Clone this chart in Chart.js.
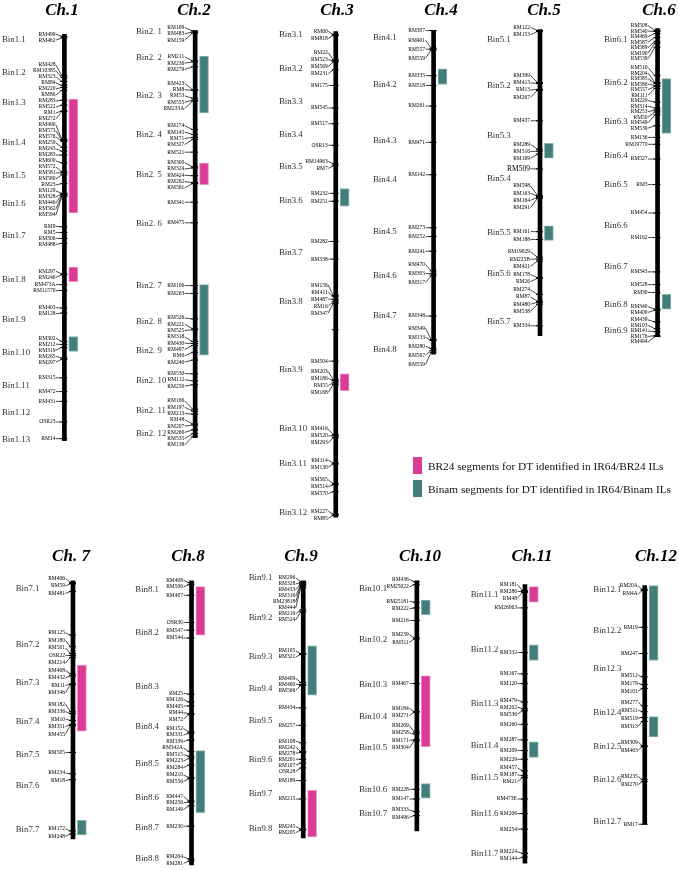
<!DOCTYPE html>
<html>
<head>
<meta charset="utf-8">
<script src="https://cdn.jsdelivr.net/npm/chart.js@4.4.1/dist/chart.umd.min.js"></script>
<style>
  html, body { margin: 0; padding: 0; background: #fff; }
  #fig { position: relative; width: 679px; height: 870px; overflow: hidden; font-family: "Liberation Serif", serif; }
  #fig canvas { position: absolute; left: 0; }
  .legend { position: absolute; left: 413px; height: 17px; font-size: 11.3px; color: #111; display: flex; align-items: center; white-space: nowrap; }
  .legend .box { display: inline-block; width: 9px; height: 17px; margin-right: 6px; }
</style>
</head>
<body>
<div id="fig"></div>
<script>
// ---- data: chromosome names, lengths, markers (position along chromosome), bins, segments ----
const chromNames = ['Ch.1', 'Ch.2', 'Ch.3', 'Ch.4', 'Ch.5', 'Ch.6', 'Ch. 7', 'Ch.8', 'Ch.9', 'Ch.10', 'Ch.11', 'Ch.12'];
const chromLength = [414, 415, 495, 330, 312, 314, 266, 293, 265, 258, 287, 246];

const markerNames = [
  ['RM499','RM462','RM428','RM10385','RM323','RM84','RM220','RM86','RM283','RM522','RM1','RM272','RM490','RM573','RM576','RM259','RM243','RM283','RM600','RM572','RM581','RM580','RM23','RM129','RM328','RM446','RM562','RM594','RM9','RM5','RM306','RM488','RM297','RM246','RM473A','RM11570','RM403','RM128','RM302','RM212','RM319','RM265','RM297','RM315','RM472','RM431','OSR23','RM14'],
  ['RM109','RM483','RM159','RM211','RM236','RM279','RM423','RM8','RM53','RM555','RM233A','RM174','RM145','RM71','RM327','RM521','RM300','RM324','RM424','RM262','RM561','RM341','RM475','RM106','RM263','RM526','RM221','RM525','RM318','RM430','RM497','RM6','RM240','RM530','RM112','RM250','RM166','RM197','RM213','RM48','RM207','RM266','RM535','RM138'],
  ['RM60','RM818','RM22','RM523','RM569','RM231','RM175','RM545','RM517','OSR13','RM14963','RM7','RM232','RM251','RM282','RM338','RM156','RM411','RM487','RM16','RM347','','RM504','RM203','RM186','RM55','RM168','RM416','RM520','RM293','RM114','RM130','RM565','RM514','RM570','RM227','RM85'],
  ['RM307','RM401','RM557','RM559','RM335','RM518','RM261','RM471','RM142','RM273','RM252','RM241','RM470','RM303','RM317','RM348','RM349','RM133','RM280','RM567','RM559'],
  ['RM122','RM153','RM399','RM413','RM13','RM267','RM437','RM289','RM516','RM169','RM509','RM598','RM163','RM164','RM291','RM161','RM188','RM19029','RM225B','RM421','RM178','RM26','RM274','RM87','RM480','RM538','RM334'],
  ['RM508','RM540','RM469','RM587','RM589','RM190','RM539','RM510','RM204','RM585','RM586','RM557','RM111','RM229','RM314','RM253','RM50','RM549','RM539','RM136','RM19770','RM527','RM3','RM454','RM162','RM343','RM528','RM30','RM340','RM400','RM439','RM103','RM141','RM176','RM494'],
  ['RM406','RM59','RM481','RM125','RM180','RM501','OSR22','RM214','RM408','RM432','RM11','RM346','RM182','RM336','RM10','RM351','RM455','RM505','RM234','RM18','RM172','RM248'],
  ['RM408','RM506','RM407','OSR30','RM547','RM544','RM25','RM126','RM405','RM44','RM72','RM152','RM331','RM339','RM342A','RM515','RM223','RM284','RM210','RM556','RM447','RM256','RM149','RM230','RM264','RM281'],
  ['RM296','RM328','RM433','RM316','RM23818','RM444','RM219','RM524','RM105','RM321','RM409','RM460','RM566','RM434','RM257','RM108','RM242','RM278','RM201','RM107','OSR28','RM189','RM215','RM245','RM205'],
  ['RM436','RM25022','RM25181','RM222','RM216','RM239','RM311','RM467','RM184','RM271','RM269','RM258','RM171','RM304','RM228','RM147','RM333','RM496'],
  ['RM181','RM286','RM48','RM26063','RM332','RM167','RM120','RM479','RM202','RM536','RM260','RM287','RM209','RM229','RM457','RM187','RM21','RM473E','RM206','RM254','RM224','RM144'],
  ['RM20A','RM4A','RM19','RM247','RM512','RM179','RM101','RM277','RM511','RM519','RM313','RM309','RM463','RM235','RM270','RM17']
];

const markerPos = [
  [2,3.5,42,44,48,52,54,57,67,72,78,78.5,107,108,109,115,119,123,131,140,141,143,152,162,162.5,163,164,165,196,202,208,213,244,245,255,261,279,284,313,316,319,330,331,350,364,374,395,412],
  [0.5,1.5,2.5,31,32,37,60.5,61,69,71,72,101,106,109,111,124,139,140,148,155,156,175,196,260,268,294,304,305,317,319,321,328,336,350,357,361,386,388,391,401,402,407,411,414],
  [3,4,29,30,31,39,55,78,94,116,135,137,165,173,214,232,269,270,273,275,277,304,336,355,356,358,360,411,412,414,440,441,461,462,469,492,493],
  [0,18,19,20,46,56,77,114,147,201,210,225,245,248,250,291,315,316,324,326,328],
  [1,2,54,55,61,62,93,122,124,127,142,169,170,171,172,206,214,232,234,236,253,253.5,270,277,278,280,302],
  [2,3,5,9,13,15,19,48,55,56,58,59,61,75,81,83,85,88,99,111,118,133,159,188,213,248,261,269,286,287,299,306,309,313,314],
  [2,3,11,56,68,75,77,79,96,98,106.5,107,135,137,144,148,149,177,199,205,258,261],
  [2,4,15,43,51,59,117,125,129,137,138,156,157,164,176,181,183,190,203,204,227,228,232,253,287,289],
  [1,2,3,4,5,7,30,32,75,76,105,107,108,131,149,167,176,177,184,188,193,206,225,256,257],
  [1,4,22,28,41,59,60,106,135,135.5,156,158,164,165,215,225,238,242],
  [6,7,8,24,70,92,102,121,128,130,144,160,171,180,192,197,199,221,236,252,277,281],
  [4,5,43,70,94,102,106,124,130,136,140,165,166,200,202,246]
];

const binNames = [
  ['Bin1.1','Bin1.2','Bin1.3','Bin1.4','Bin1.5','Bin1.6','Bin1.7','Bin1.8','Bin1.9','Bin1.10','Bin1.11','Bin1.12','Bin1.13'],
  ['Bin2. 1','Bin2. 2','Bin2. 3','Bin2. 4','Bin2. 5','Bin2. 6','Bin2. 7','Bin2. 8','Bin2. 9','Bin2. 10','Bin2. 11','Bin2. 12'],
  ['Bin3.1','Bin3.2','Bin3.3','Bin3.4','Bin3.5','Bin3.6','Bin3.7','Bin3.8','Bin3.9','Bin3.10','Bin3.11','Bin3.12'],
  ['Bin4.1','Bin4.2','Bin4.3','Bin4.4','Bin4.5','Bin4.6','Bin4.7','Bin4.8'],
  ['Bin5.1','Bin5.2','Bin5.3','Bin5.4','Bin5.5','Bin5.6','Bin5.7'],
  ['Bin6.1','Bin6.2','Bin6.3','Bin6.4','Bin6.5','Bin6.6','Bin6.7','Bin6.8','Bin6.9'],
  ['Bin7.1','Bin7.2','Bin7.3','Bin7.4','Bin7.5','Bin7.6','Bin7.7'],
  ['Bin8.1','Bin8.2','Bin8.3','Bin8.4','Bin8.5','Bin8.6','Bin8.7','Bin8.8'],
  ['Bin9.1','Bin9.2','Bin9.3','Bin9.4','Bin9.5','Bin9.6','Bin9.7','Bin9.8'],
  ['Bin10.1','Bin10.2','Bin10.3','Bin10.4','Bin10.5','Bin10.6','Bin10.7'],
  ['Bin11.1','Bin11.2','Bin11.3','Bin11.4','Bin11.5','Bin11.6','Bin11.7'],
  ['Bin12.1','Bin12.2','Bin12.3','Bin12.4','Bin12.5','Bin12.6','Bin12.7']
];
const binPos = [
  [5,39,70,110,144,173,205,250,291,324,358,386,413],
  [1,28,66,106,147,197,260,297,326,357,387,411],
  [3,38,72,105,138,172,225,275,345,405,441,490],
  [7,55,112,152,205,250,291,325],
  [10,57,108,152,207,249,298],
  [11,55,95,130,159,201,243,281,308],
  [8,66,105,145,179,211,257],
  [9,54,109,150,189,224,255,286],
  [-3,38,78,111,144,184,220,256],
  [8,61,107,140,172,215,240],
  [10,67,123,166,199,236,277],
  [4,46,86,131,166,200,243]
];

// introgression segments [start, end] along each chromosome
const br24Segments = [
  [[66,182],[237,252]], [[135,157]], [[349,366]], [], [], [],
  [[87,155]], [[6,56]], [[216,264]], [[98,171]], [[2,18]], []
];
const binamSegments = [
  [[308,323]], [[26,84],[259,331]], [[160,178]], [[39,55]], [[116,131],[200,215]], [[51,107],[271,286]],
  [[247,262]], [[175,239]], [[67,118]], [[20,35],[209,224]], [[62,78],[162,178]], [[0,77],[135,156]]
];
const seriesLabels = ['BR24 segments for DT identified in IR64/BR24 ILs', 'Binam segments for DT identified in IR64/Binam ILs'];

// ---- layout & style ----
const figWidth = 679;
const rowTop = [0, 535];
const rowHeight = [530, 335];
const barX = [60.3,193,335.7,435,543,662.3, 69,189.3,302.7,418,527.7,649.3];
const chromTop = [30,26,27,26,25,24, 577,577,577,577,581,582];
const binX = [2,136,279,373,487,604, 15.7,135.3,248.7,359,470.7,593.3];
const titleX = [62,194,337,441,544,659, 71,188,301,420,532,656];
const titleY = [11, 556.7];
const labelGap = [9,11,8,8.5,10,10, 8,8.5,8,8,8,7];
const labelSpacing = [6,6.3,7,9,7.2,5.5, 7.5,6.5,6,7.5,7,8];
const segTrack = 9;
const pink = '#DB3B95', pinkEdge = '#EE8CC4';
const teal = '#437E7B', tealEdge = '#8DB5B1';
const largeMarkers = ['RM509'];

const fig = document.getElementById('fig');

// push overlapping labels apart, keeping each cluster centred on its loci
function spreadLabels(ys, gap, minY) {
  let groups = ys.map(y => ({ n: 1, sum: y }));
  const top = g => Math.max(minY, g.sum / g.n - (g.n - 1) * gap / 2);
  let merged = true;
  while (merged) {
    merged = false;
    for (let k = 0; k < groups.length - 1; k++) {
      const a = groups[k], b = groups[k + 1];
      if (top(b) < top(a) + a.n * gap) {
        groups.splice(k, 2, { n: a.n + b.n, sum: a.sum + b.sum });
        merged = true;
        break;
      }
    }
  }
  const out = [];
  groups.forEach(g => {
    const t = top(g);
    for (let j = 0; j < g.n; j++) out.push(t + j * gap);
  });
  return out;
}

const mapLabels = (i, row) => ({
  id: 'mapLabels' + i,
  afterDatasetsDraw(chart) {
    const { ctx, scales: { x, y } } = chart;
    const barPx = x.getPixelForValue(0);
    const named = [];
    markerNames[i].forEach((name, k) => { if (name) named.push({ name, tick: y.getPixelForValue(markerPos[i][k]) }); });
    const labs = spreadLabels(named.map(m => m.tick), labelSpacing[i], y.getPixelForValue(-3));
    const right = barPx - labelGap[i];

    ctx.save();
    ctx.fillStyle = '#000';
    ctx.strokeStyle = '#000';
    ctx.lineWidth = 0.7;
    ctx.textAlign = 'right';
    ctx.textBaseline = 'middle';
    named.forEach((m, k) => {
      ctx.font = largeMarkers.includes(m.name) ? '7.5px "Liberation Serif"' : '5.5px "Liberation Serif"';
      ctx.fillText(m.name, right, labs[k]);
      ctx.beginPath();
      ctx.moveTo(right + 0.5, labs[k]);
      ctx.lineTo(barPx - 2.5, m.tick);
      ctx.stroke();
    });

    // bin labels
    ctx.textAlign = 'left';
    ctx.fillStyle = '#333';
    ctx.font = '8.8px "Liberation Serif"';
    binNames[i].forEach((b, k) => {
      ctx.fillText(b, binX[i], y.getPixelForValue(binPos[i][k]));
    });

    // chromosome title
    ctx.fillStyle = '#000';
    ctx.textAlign = 'center';
    ctx.font = 'italic bold 17px "Liberation Serif"';
    ctx.fillText(chromNames[i], titleX[i], titleY[row] - rowTop[row]);
    ctx.restore();
  }
});

const drawChromosome = (i) => {
  const row = i < 6 ? 0 : 1;
  const W = figWidth;
  const H = rowHeight[row];
  const canvas = document.createElement('canvas');
  canvas.width = W;
  canvas.height = H;
  canvas.style.top = rowTop[row] + 'px';
  canvas.style.width = W + 'px';
  canvas.style.height = H + 'px';
  fig.appendChild(canvas);

  const x0 = barX[i];
  const y0 = chromTop[i] - rowTop[row];

  new Chart(canvas, {
    type: 'scatter',
    data: {
      datasets: [
        {
          type: 'bar',
          label: 'chromosome',
          data: [{ x: 0, y: [0, chromLength[i]] }],
          backgroundColor: '#000',
          barThickness: 4,
          grouped: false,
          clip: false
        },
        {
          type: 'bar',
          label: seriesLabels[0],
          data: br24Segments[i].map(s => ({ x: segTrack, y: s })),
          backgroundColor: pink,
          borderColor: pinkEdge,
          borderWidth: 1,
          borderSkipped: false,
          barThickness: 9,
          grouped: false,
          clip: false
        },
        {
          type: 'bar',
          label: seriesLabels[1],
          data: binamSegments[i].map(s => ({ x: segTrack, y: s })),
          backgroundColor: teal,
          borderColor: tealEdge,
          borderWidth: 1,
          borderSkipped: false,
          barThickness: 9,
          grouped: false,
          clip: false
        },
        {
          type: 'scatter',
          label: 'markers',
          data: markerPos[i].map(p => ({ x: -0.5, y: p })),
          pointStyle: 'line',
          pointRadius: 3.5,
          pointBorderWidth: 1,
          pointBorderColor: '#000',
          clip: false
        }
      ]
    },
    options: {
      responsive: false,
      animation: false,
      events: [],
      layout: { padding: 0 },
      plugins: {
        legend: { display: false },
        tooltip: { enabled: false },
        title: { display: false }
      },
      scales: {
        x: { type: 'linear', display: false, offset: false, grace: 0, min: -x0, max: W - x0 },
        y: { type: 'linear', display: false, offset: false, grace: 0, beginAtZero: false, reverse: true, min: -y0, max: H - y0 }
      }
    },
    plugins: [mapLabels(i, row)]
  });
};

chromNames.forEach((c, i) => drawChromosome(i));

// legend
[[pink, 457], [teal, 480]].forEach(([col, top], k) => {
  const div = document.createElement('div');
  div.className = 'legend';
  div.style.top = top + 'px';
  const box = document.createElement('span');
  box.className = 'box';
  box.style.background = col;
  div.appendChild(box);
  div.appendChild(document.createTextNode(seriesLabels[k]));
  fig.appendChild(div);
});
</script>
</body>
</html>
